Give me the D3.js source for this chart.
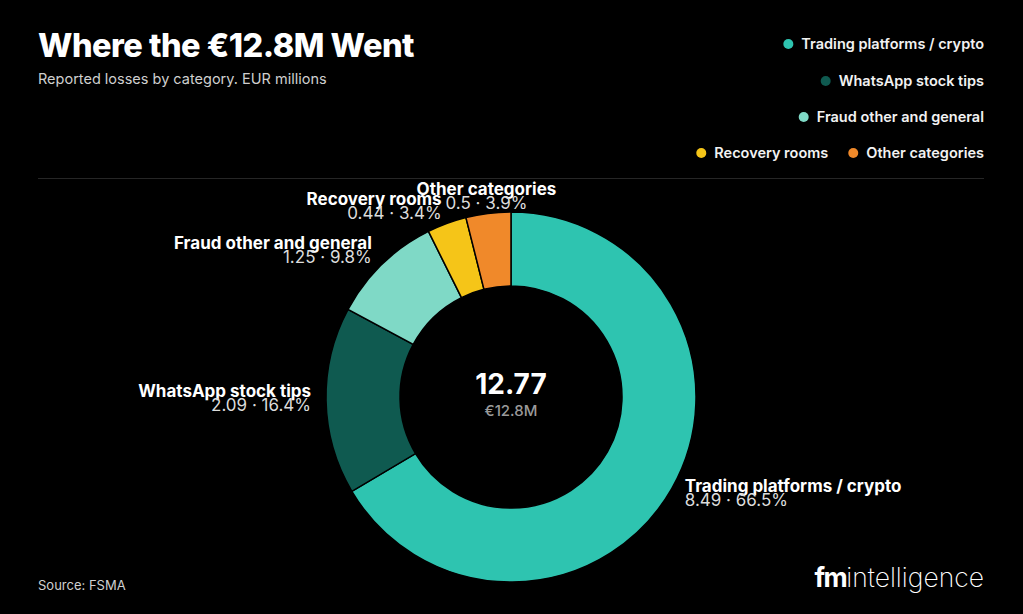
<!DOCTYPE html>
<html>
<head>
<meta charset="utf-8">
<script src="https://cdn.jsdelivr.net/npm/d3@7"></script>
<style>
  html, body { margin: 0; padding: 0; background: #000; }
  svg { display: block; font-family: Inter, "Noto Sans", sans-serif; }
</style>
</head>
<body>
<div id="chart"></div>
<script>
// data
const categories = ['Trading platforms / crypto', 'WhatsApp stock tips', 'Fraud other and general', 'Recovery rooms', 'Other categories'];
const values = [8.49, 2.09, 1.25, 0.44, 0.5];
const colours = ['#2ec4b0', '#0f5a50', '#7fd9c6', '#f5c518', '#f0892a'];
// legend rows as they wrap in the header
const legendRows = [[0], [1], [2], [3, 4]];

const width = 1023;
const height = 614;
const margin = {l: 38, r: 39};

const svg = d3.select('#chart')
    .append('svg')
    .attr('width', width)
    .attr('height', height);

svg.append('rect').attr('width', width).attr('height', height).attr('fill', '#000');

// title block
svg.append('text')
    .attr('x', margin.l).attr('y', 57)
    .attr('fill', '#fff')
    .attr('font-size', 32.5).attr('font-weight', 800)
    .attr('letter-spacing', -0.5)
    .text('Where the €12.8M Went');

svg.append('text')
    .attr('x', margin.l).attr('y', 84)
    .attr('fill', '#cfcfcf')
    .attr('font-size', 14.5)
    .text('Reported losses by category. EUR millions');

// legend, right aligned
const legendY = [44, 81, 117, 153];
legendRows.forEach((row, ri) => {
    let xEnd = width - margin.r;
    row.slice().reverse().forEach(i => {
        const t = svg.append('text')
            .attr('y', legendY[ri])
            .attr('dy', '0.35em')
            .attr('fill', '#f2f2f2')
            .attr('font-size', 14.5).attr('font-weight', 600)
            .attr('text-anchor', 'end')
            .attr('x', xEnd)
            .text(categories[i]);
        const w = t.node().getComputedTextLength();
        svg.append('circle')
            .attr('cx', xEnd - w - 13)
            .attr('cy', legendY[ri])
            .attr('r', 5)
            .attr('fill', colours[i]);
        xEnd = xEnd - w - 13 - 5 - 20;
    });
});

svg.append('line')
    .attr('x1', margin.l).attr('x2', width - margin.r)
    .attr('y1', 178.5).attr('y2', 178.5)
    .attr('stroke', '#262626');

// donut
const cx = 511, cy = 397;
const outerR = 185, innerR = 111, labelR = 200;
const total = d3.sum(values);

const pie = d3.pie().sort(null).value(d => d)(values);
const arc = d3.arc().innerRadius(innerR).outerRadius(outerR);
const labelArc = d3.arc().innerRadius(labelR).outerRadius(labelR);

const g = svg.append('g').attr('transform', `translate(${cx},${cy})`);

g.selectAll('path.slice')
    .data(pie)
    .join('path')
    .attr('class', 'slice')
    .attr('d', arc)
    .attr('fill', (d, i) => colours[i])
    .attr('stroke', '#000')
    .attr('stroke-width', 1.5);

const fmtPct = d3.format('.1f');
const labels = g.selectAll('g.label')
    .data(pie)
    .join('g')
    .attr('class', 'label')
    .attr('transform', d => {
        const [x, y] = labelArc.centroid(d);
        return `translate(${x},${y})`;
    });

const anchor = d => {
    const x = labelArc.centroid(d)[0];
    return x > 40 ? 'start' : x < -40 ? 'end' : 'middle';
};

labels.append('text')
    .attr('text-anchor', anchor)
    .attr('y', -4)
    .attr('fill', '#fff')
    .attr('font-size', 17).attr('font-weight', 700)
    .text((d, i) => categories[i]);

labels.append('text')
    .attr('text-anchor', anchor)
    .attr('y', 10)
    .attr('fill', '#dcdcdc')
    .attr('font-size', 17)
    .text((d, i) => `${values[i]} · ${fmtPct(values[i] / total * 100)}%`);

// centre total
g.append('text')
    .attr('text-anchor', 'middle')
    .attr('y', -3)
    .attr('fill', '#fff')
    .attr('font-size', 28).attr('font-weight', 700)
    .text(d3.format('.2f')(total));

g.append('text')
    .attr('text-anchor', 'middle')
    .attr('y', 19)
    .attr('fill', '#9a9a9a')
    .attr('font-size', 15).attr('font-weight', 500)
    .text('€' + d3.format('.1f')(total) + 'M');

// footer
svg.append('text')
    .attr('x', margin.l).attr('y', 590)
    .attr('fill', '#d0d0d0')
    .attr('font-size', 13)
    .text('Source: FSMA');

const logo = svg.append('text')
    .attr('x', width - margin.r).attr('y', 587)
    .attr('text-anchor', 'end')
    .attr('fill', '#fff')
    .attr('font-size', 26.5);
logo.append('tspan').attr('font-weight', 700).attr('letter-spacing', -1.5).text('fm');
logo.append('tspan').attr('font-weight', 200).text('intelligence');
</script>
</body>
</html>
